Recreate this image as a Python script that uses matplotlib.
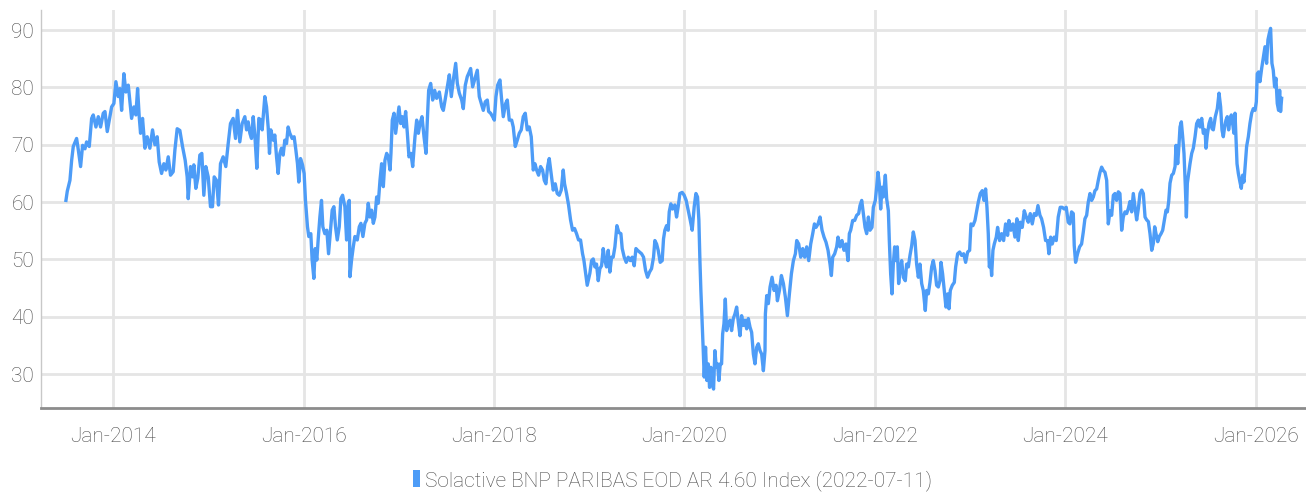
import numpy as np
import pandas as pd
import matplotlib
matplotlib.use('Agg')
import matplotlib.pyplot as plt
import matplotlib.dates as mdates
from matplotlib.patches import Patch

# (decimal year, index level)
seg_2013_2015 = [
    (2013.503, 60.3), (2013.517, 61.9), (2013.545, 63.8), (2013.563, 67.3), (2013.580, 69.7),
    (2013.615, 71.1), (2013.633, 69.1), (2013.657, 66.2), (2013.678, 69.9), (2013.703, 69.3),
    (2013.720, 70.5), (2013.748, 69.7), (2013.773, 74.6), (2013.790, 75.2), (2013.818, 73.1),
    (2013.843, 74.9), (2013.867, 73.1), (2013.895, 75.5), (2013.913, 75.8), (2013.937, 72.3),
    (2013.965, 74.9), (2013.983, 76.6), (2014.007, 77.2), (2014.028, 81.0), (2014.053, 78.4),
    (2014.070, 79.8), (2014.088, 76.0), (2014.112, 82.4), (2014.133, 79.2), (2014.158, 80.4),
    (2014.175, 77.5), (2014.193, 74.6), (2014.217, 76.6), (2014.238, 75.2), (2014.256, 79.8),
    (2014.273, 74.9), (2014.287, 72.0), (2014.308, 74.6), (2014.333, 69.4), (2014.357, 71.4),
    (2014.385, 69.4), (2014.413, 72.6), (2014.438, 70.0), (2014.462, 71.4), (2014.483, 67.0),
    (2014.508, 65.0), (2014.532, 66.7), (2014.553, 65.6), (2014.578, 67.9), (2014.602, 64.7),
    (2014.630, 65.3), (2014.648, 69.1), (2014.672, 72.8), (2014.700, 72.5), (2014.728, 69.7),
    (2014.756, 67.3), (2014.777, 64.4), (2014.788, 60.6), (2014.812, 66.2), (2014.833, 64.4),
    (2014.847, 66.5), (2014.868, 62.4), (2014.889, 64.2), (2014.910, 68.2), (2014.931, 68.5),
    (2014.952, 61.2), (2014.973, 66.2), (2014.998, 64.4), (2015.022, 59.2), (2015.043, 59.2),
    (2015.061, 64.4), (2015.085, 63.8), (2015.106, 59.5), (2015.127, 66.7), (2015.155, 67.9),
    (2015.183, 66.2), (2015.208, 70.2), (2015.232, 73.7), (2015.260, 74.6), (2015.285, 71.1),
    (2015.306, 76.0), (2015.330, 70.5),
]

seg_2015_2017 = [
    (2015.355, 73.7), (2015.383, 74.9), (2015.401, 72.6), (2015.418, 74.0), (2015.436, 72.0),
    (2015.453, 71.1), (2015.471, 74.9), (2015.488, 71.7), (2015.509, 65.9), (2015.530, 74.6),
    (2015.551, 74.3), (2015.565, 72.6), (2015.593, 78.4), (2015.611, 76.6), (2015.628, 73.1),
    (2015.642, 68.5), (2015.656, 72.6), (2015.681, 70.8), (2015.698, 71.7), (2015.716, 67.9),
    (2015.733, 65.0), (2015.751, 68.5), (2015.768, 69.4), (2015.786, 68.2), (2015.803, 70.8),
    (2015.821, 70.2), (2015.838, 73.1), (2015.856, 72.0), (2015.880, 71.1), (2015.901, 71.4),
    (2015.919, 69.1), (2015.936, 66.7), (2015.950, 63.5), (2015.968, 67.6), (2015.989, 66.5),
    (2016.006, 65.0), (2016.020, 60.3), (2016.041, 55.7), (2016.055, 54.0), (2016.076, 54.5),
    (2016.090, 49.9), (2016.108, 46.7), (2016.122, 51.9), (2016.139, 49.9), (2016.153, 53.4),
    (2016.171, 57.4), (2016.188, 60.3), (2016.202, 55.7), (2016.223, 54.5), (2016.244, 55.1),
    (2016.262, 51.0), (2016.279, 54.5), (2016.300, 58.6), (2016.318, 59.2), (2016.335, 55.7),
    (2016.353, 53.4), (2016.374, 55.7), (2016.391, 60.6), (2016.409, 61.2), (2016.433, 59.2),
    (2016.451, 53.4), (2016.468, 59.8), (2016.479, 60.3), (2016.486, 47.0), (2016.503, 49.9),
    (2016.521, 52.2), (2016.538, 54.0), (2016.563, 53.4), (2016.584, 55.7), (2016.601, 56.3),
    (2016.622, 54.0), (2016.643, 56.3), (2016.661, 56.9), (2016.678, 59.8), (2016.696, 57.4),
    (2016.713, 58.6), (2016.731, 56.3), (2016.748, 57.4), (2016.766, 60.9), (2016.783, 59.8),
    (2016.801, 63.8), (2016.818, 66.7), (2016.836, 62.7), (2016.853, 67.3), (2016.871, 68.5),
    (2016.888, 67.9), (2016.906, 65.6), (2016.916, 68.5), (2016.930, 74.3), (2016.948, 75.5),
    (2016.965, 72.0), (2016.983, 74.3), (2017.000, 76.6), (2017.018, 73.7), (2017.035, 74.9),
    (2017.053, 73.1), (2017.070, 75.8), (2017.088, 72.0), (2017.105, 67.9), (2017.126, 68.5),
    (2017.144, 66.2), (2017.168, 71.4),
]

seg_2017_2019 = [
    (2017.186, 74.3), (2017.204, 72.0), (2017.221, 73.7), (2017.242, 74.9), (2017.263, 71.4),
    (2017.284, 68.5), (2017.298, 74.3), (2017.312, 79.5), (2017.333, 80.7), (2017.354, 77.8),
    (2017.375, 79.5), (2017.396, 78.1), (2017.424, 79.2), (2017.449, 76.6), (2017.466, 76.0),
    (2017.491, 78.4), (2017.508, 80.1), (2017.529, 82.2), (2017.550, 78.4), (2017.571, 81.3),
    (2017.596, 84.2), (2017.613, 80.7), (2017.634, 79.0), (2017.659, 77.8), (2017.676, 76.3),
    (2017.697, 80.4), (2017.718, 81.9), (2017.739, 82.7), (2017.753, 83.3), (2017.774, 80.1),
    (2017.799, 81.6), (2017.823, 83.0), (2017.844, 78.4), (2017.865, 77.2), (2017.886, 76.0),
    (2017.907, 77.5), (2017.928, 77.8), (2017.942, 75.8), (2017.963, 75.5), (2017.984, 74.9),
    (2018.002, 74.3), (2018.019, 78.4), (2018.037, 80.4), (2018.061, 81.3), (2018.079, 77.8),
    (2018.096, 74.9), (2018.121, 77.2), (2018.138, 77.8), (2018.159, 74.3), (2018.184, 74.3),
    (2018.201, 73.1), (2018.222, 69.7), (2018.243, 70.8), (2018.264, 72.0), (2018.285, 72.6),
    (2018.306, 74.9), (2018.327, 75.5), (2018.348, 72.6), (2018.369, 73.1), (2018.390, 71.4),
    (2018.411, 65.6), (2018.429, 66.7), (2018.446, 65.6), (2018.467, 64.7), (2018.488, 66.2),
    (2018.509, 65.6), (2018.527, 63.8), (2018.544, 63.2), (2018.562, 66.2), (2018.579, 67.6),
    (2018.600, 64.9), (2018.621, 62.1), (2018.642, 63.2), (2018.663, 61.5), (2018.684, 61.2),
    (2018.705, 62.1), (2018.726, 65.6), (2018.740, 63.2), (2018.761, 61.5), (2018.782, 59.5),
    (2018.803, 56.9), (2018.824, 55.1), (2018.845, 55.4), (2018.866, 54.5), (2018.887, 53.4),
    (2018.908, 53.4), (2018.929, 51.0), (2018.943, 49.9), (2018.961, 47.6), (2018.978, 45.5),
    (2019.006, 47.6),
]

seg_2019_2020 = [
    (2019.024, 49.8), (2019.041, 50.1), (2019.059, 48.7), (2019.076, 49.2), (2019.094, 46.3),
    (2019.111, 48.4), (2019.129, 48.9), (2019.146, 51.9), (2019.164, 49.8), (2019.181, 48.7),
    (2019.199, 51.6), (2019.216, 47.8), (2019.234, 50.4), (2019.251, 50.4), (2019.269, 52.2),
    (2019.290, 55.9), (2019.311, 54.7), (2019.332, 54.5), (2019.346, 51.9), (2019.367, 50.4),
    (2019.388, 49.5), (2019.409, 50.4), (2019.430, 49.8), (2019.451, 50.4), (2019.472, 48.9),
    (2019.490, 51.9), (2019.507, 51.6), (2019.528, 51.3), (2019.549, 51.0), (2019.570, 50.4),
    (2019.591, 48.1), (2019.612, 46.9), (2019.633, 47.8), (2019.654, 48.4), (2019.675, 50.4),
    (2019.689, 53.3), (2019.707, 52.7), (2019.724, 51.6), (2019.745, 49.5), (2019.766, 49.8),
    (2019.780, 53.6), (2019.794, 55.1), (2019.812, 55.9), (2019.829, 55.1), (2019.840, 58.3),
    (2019.857, 59.7), (2019.875, 58.8), (2019.899, 59.5), (2019.917, 57.4), (2019.934, 59.2),
    (2019.952, 61.5), (2019.976, 61.7), (2019.997, 61.2), (2020.018, 60.3), (2020.039, 58.6),
    (2020.060, 56.9), (2020.081, 55.1), (2020.102, 59.2), (2020.120, 61.5), (2020.137, 60.9),
    (2020.151, 56.9), (2020.162, 49.8), (2020.172, 44.6), (2020.186, 38.8), (2020.197, 34.1),
    (2020.207, 29.5), (2020.221, 34.7), (2020.235, 28.9), (2020.249, 31.8), (2020.263, 27.7),
    (2020.277, 31.2), (2020.291, 28.3), (2020.305, 27.4), (2020.319, 34.1), (2020.333, 31.2),
    (2020.347, 31.8), (2020.361, 28.9), (2020.375, 31.8), (2020.389, 31.8), (2020.400, 37.0),
    (2020.414, 38.8), (2020.428, 43.1), (2020.442, 37.6), (2020.459, 38.8), (2020.477, 39.4),
    (2020.494, 37.6), (2020.512, 39.7), (2020.529, 40.5), (2020.547, 41.7), (2020.564, 39.1),
    (2020.582, 36.7), (2020.599, 40.2), (2020.617, 38.5), (2020.634, 39.4), (2020.652, 37.9),
    (2020.669, 39.7), (2020.687, 38.2), (2020.704, 37.3), (2020.722, 33.5), (2020.739, 31.8),
    (2020.757, 34.7), (2020.774, 35.3), (2020.792, 34.1), (2020.809, 33.5), (2020.827, 30.6),
    (2020.844, 34.1),
]

seg_2020_2022 = [
    (2020.848, 40.5), (2020.862, 43.7), (2020.879, 42.3), (2020.897, 45.2), (2020.918, 46.9),
    (2020.939, 44.6), (2020.960, 45.5), (2020.974, 42.8), (2020.995, 44.6), (2021.016, 47.2),
    (2021.037, 45.8), (2021.058, 43.4), (2021.079, 40.2), (2021.100, 44.0), (2021.121, 47.5),
    (2021.142, 49.8), (2021.163, 51.0), (2021.177, 53.3), (2021.198, 52.7), (2021.219, 50.4),
    (2021.240, 51.9), (2021.261, 50.4), (2021.282, 52.2), (2021.303, 49.8), (2021.324, 52.7),
    (2021.345, 54.5), (2021.363, 56.2), (2021.380, 55.6), (2021.401, 56.2), (2021.422, 57.4),
    (2021.443, 55.1), (2021.464, 53.9), (2021.485, 53.0), (2021.506, 51.6), (2021.527, 49.2),
    (2021.541, 47.2), (2021.555, 50.4), (2021.576, 51.0), (2021.597, 52.2), (2021.611, 53.9),
    (2021.632, 52.2), (2021.653, 53.3), (2021.674, 51.6), (2021.695, 52.7), (2021.716, 49.8),
    (2021.730, 54.5), (2021.744, 55.1), (2021.765, 56.8), (2021.786, 56.8), (2021.807, 57.7),
    (2021.828, 58.0), (2021.842, 59.4), (2021.860, 60.3), (2021.877, 58.0), (2021.895, 55.6),
    (2021.912, 54.5), (2021.930, 57.4), (2021.947, 55.1), (2021.968, 55.6), (2021.982, 59.1),
    (2022.003, 60.3), (2022.017, 62.6), (2022.031, 65.2), (2022.045, 63.2), (2022.059, 58.8),
    (2022.073, 62.6), (2022.087, 60.9), (2022.108, 64.7), (2022.122, 60.6), (2022.140, 58.5),
    (2022.150, 53.3), (2022.164, 47.5), (2022.178, 44.0), (2022.192, 49.2), (2022.206, 52.2),
    (2022.220, 49.8), (2022.234, 52.2), (2022.248, 45.8), (2022.262, 48.1), (2022.280, 49.8),
    (2022.297, 46.9), (2022.318, 46.3), (2022.332, 49.2), (2022.350, 48.7), (2022.367, 50.7),
    (2022.385, 52.4), (2022.402, 54.8), (2022.420, 53.3), (2022.437, 49.2), (2022.455, 46.9),
    (2022.472, 49.2), (2022.490, 45.8), (2022.507, 44.6), (2022.528, 41.1), (2022.542, 44.6),
    (2022.560, 44.0), (2022.577, 46.0), (2022.595, 48.7), (2022.612, 49.8), (2022.630, 48.1),
    (2022.647, 45.5), (2022.665, 45.2), (2022.682, 46.3),
]

seg_2022_2024 = [
    (2022.693, 49.5), (2022.710, 47.5), (2022.728, 44.6), (2022.745, 41.7), (2022.763, 44.0),
    (2022.777, 41.4), (2022.791, 44.6), (2022.812, 45.5), (2022.833, 46.0), (2022.847, 48.7),
    (2022.868, 51.0), (2022.889, 51.3), (2022.910, 50.7), (2022.931, 51.0), (2022.952, 49.5),
    (2022.973, 51.3), (2022.994, 51.6), (2023.008, 56.2), (2023.029, 55.9), (2023.050, 56.8),
    (2023.068, 58.5), (2023.085, 60.0), (2023.106, 61.5), (2023.127, 62.0), (2023.145, 60.3),
    (2023.162, 62.3), (2023.176, 59.1), (2023.190, 54.5), (2023.201, 48.7), (2023.215, 49.8),
    (2023.225, 47.2), (2023.239, 51.6), (2023.253, 52.7), (2023.274, 53.9), (2023.288, 55.6),
    (2023.309, 53.3), (2023.330, 54.5), (2023.351, 53.3), (2023.372, 56.2), (2023.393, 54.2),
    (2023.407, 56.8), (2023.428, 55.1), (2023.449, 56.2), (2023.470, 53.9), (2023.491, 57.1),
    (2023.505, 53.3), (2023.526, 56.5), (2023.547, 55.6), (2023.568, 58.5), (2023.589, 57.4),
    (2023.610, 56.5), (2023.631, 58.0), (2023.652, 56.2), (2023.673, 58.0), (2023.694, 57.7),
    (2023.712, 59.4), (2023.733, 57.7), (2023.750, 57.1), (2023.771, 55.6), (2023.792, 53.3),
    (2023.813, 53.3), (2023.827, 51.0), (2023.845, 53.9), (2023.862, 52.7), (2023.883, 53.9),
    (2023.904, 53.3), (2023.925, 57.4), (2023.946, 59.1), (2023.967, 59.1), (2023.988, 58.8),
    (2024.009, 59.1), (2024.030, 56.5), (2024.048, 56.2), (2024.065, 58.3), (2024.083, 58.0),
    (2024.093, 52.4), (2024.107, 49.5), (2024.128, 51.0), (2024.149, 52.2), (2024.170, 52.7),
    (2024.188, 54.8), (2024.205, 57.1), (2024.223, 57.7), (2024.240, 60.0), (2024.258, 61.5),
    (2024.275, 60.3), (2024.293, 60.9), (2024.310, 62.0), (2024.328, 62.3), (2024.345, 63.8),
    (2024.363, 65.2), (2024.380, 66.1), (2024.398, 65.5), (2024.415, 65.2), (2024.433, 63.8),
    (2024.450, 56.2), (2024.468, 58.5), (2024.485, 57.7), (2024.503, 61.2), (2024.520, 61.5),
]

seg_2024_2026 = [
    (2024.537, 60.3), (2024.555, 61.8), (2024.572, 61.5), (2024.590, 55.1), (2024.607, 57.4),
    (2024.625, 58.3), (2024.642, 58.0), (2024.660, 58.9), (2024.677, 60.1), (2024.695, 58.3),
    (2024.712, 61.5), (2024.730, 59.2), (2024.747, 56.9), (2024.765, 58.9), (2024.782, 61.5),
    (2024.800, 62.1), (2024.817, 61.5), (2024.835, 57.4), (2024.852, 56.9), (2024.870, 56.6),
    (2024.887, 54.5), (2024.905, 51.6), (2024.922, 52.8), (2024.936, 55.7), (2024.950, 54.5),
    (2024.968, 53.1), (2024.985, 54.0), (2025.003, 54.5), (2025.020, 55.1), (2025.038, 56.9),
    (2025.055, 58.6), (2025.069, 58.3), (2025.083, 60.1), (2025.097, 63.3), (2025.115, 64.7),
    (2025.132, 65.0), (2025.150, 66.2), (2025.160, 69.9), (2025.178, 66.7), (2025.192, 70.2),
    (2025.202, 73.1), (2025.216, 74.0), (2025.230, 71.4), (2025.244, 68.5), (2025.258, 62.7),
    (2025.269, 57.4), (2025.279, 63.3), (2025.293, 65.0), (2025.307, 66.7), (2025.325, 68.5),
    (2025.342, 69.4), (2025.360, 71.4), (2025.377, 73.7), (2025.395, 74.3), (2025.412, 73.1),
    (2025.430, 74.6), (2025.447, 72.0), (2025.465, 72.6), (2025.475, 69.4), (2025.489, 71.7),
    (2025.507, 73.7), (2025.524, 74.6), (2025.538, 72.8), (2025.552, 72.6), (2025.573, 74.9),
    (2025.594, 76.3), (2025.612, 79.0), (2025.629, 76.6), (2025.643, 72.6), (2025.657, 71.4),
    (2025.671, 73.1), (2025.685, 74.3), (2025.699, 74.9), (2025.713, 72.6), (2025.727, 74.3),
    (2025.741, 75.2), (2025.755, 73.7), (2025.769, 72.0), (2025.780, 75.5), (2025.790, 71.4),
    (2025.801, 66.7), (2025.815, 65.0), (2025.832, 63.5), (2025.846, 62.4), (2025.860, 64.7),
    (2025.874, 63.5), (2025.888, 66.7), (2025.902, 69.7), (2025.920, 71.4), (2025.937, 73.7),
    (2025.955, 75.5), (2025.972, 76.3), (2025.990, 76.0), (2026.004, 77.5), (2026.014, 82.4),
    (2026.028, 82.7), (2026.042, 81.0), (2026.060, 83.3), (2026.077, 85.1), (2026.095, 87.1),
    (2026.112, 84.2), (2026.126, 88.3), (2026.140, 89.4), (2026.154, 90.3), (2026.168, 84.2),
    (2026.182, 83.0), (2026.196, 80.1), (2026.210, 81.6), (2026.224, 77.2), (2026.238, 76.0),
    (2026.249, 79.5), (2026.259, 75.8), (2026.270, 78.1),
]

series_name = 'Solactive BNP PARIBAS EOD AR 4.60 Index (2022-07-11)'
yticks = [30, 40, 50, 60, 70, 80, 90]
xtick_years = [2014, 2016, 2018, 2020, 2022, 2024, 2026]

#%%
def dec2date(y):
    yr = int(y)
    start = pd.Timestamp(yr, 1, 1)
    end = pd.Timestamp(yr + 1, 1, 1)
    return start + (end - start) * (y - yr)

pts = (seg_2013_2015 + seg_2015_2017 + seg_2017_2019 + seg_2019_2020
       + seg_2020_2022 + seg_2022_2024 + seg_2024_2026)
dates = [dec2date(t) for t, v in pts]
vals = [v for t, v in pts]

plt.rcParams['font.family'] = ['Roboto', 'DejaVu Sans']
line_col = '#4d9cf7'
txt_col = '#4a4a4a'

fig = plt.figure(figsize=(13.06, 4.93), dpi=100)
ax = fig.add_axes([0.0314, 0.1724, 0.9686, 0.8073])

ax.plot(dates, vals, color=line_col, lw=2.4, solid_joinstyle='round')

ax.set_xlim(dec2date(2013.241), dec2date(2026.526))
ax.set_ylim(24.1, 93.5)
ax.set_yticks(yticks)
ax.set_xticks([pd.Timestamp(y, 1, 1) for y in xtick_years])
ax.xaxis.set_major_formatter(mdates.DateFormatter('%b-%Y'))

ax.grid(True, color='#e5e5e5', lw=2)
ax.set_axisbelow(True)
for s in ['top', 'right']:
    ax.spines[s].set_visible(False)
ax.spines['bottom'].set_color('#8c8c8c')
ax.spines['bottom'].set_linewidth(2)
ax.spines['left'].set_color('#c8c8c8')
ax.spines['left'].set_linewidth(1)

ax.tick_params(axis='x', length=0, pad=14, labelsize=15, labelcolor=txt_col)
ax.tick_params(axis='y', length=0, pad=5, labelsize=15, labelcolor=txt_col)
for lab in ax.get_xticklabels() + ax.get_yticklabels():
    lab.set_fontweight('light')

handle = Patch(facecolor=line_col, edgecolor='none')
leg = fig.legend([handle], [series_name], loc='center', bbox_to_anchor=(0.515, 0.026),
                 frameon=False, fontsize=15, handlelength=0.35, handleheight=0.9,
                 handletextpad=0.25, labelcolor=txt_col)
for t in leg.get_texts():
    t.set_fontweight('light')

fig.savefig('out.png', dpi=100)
